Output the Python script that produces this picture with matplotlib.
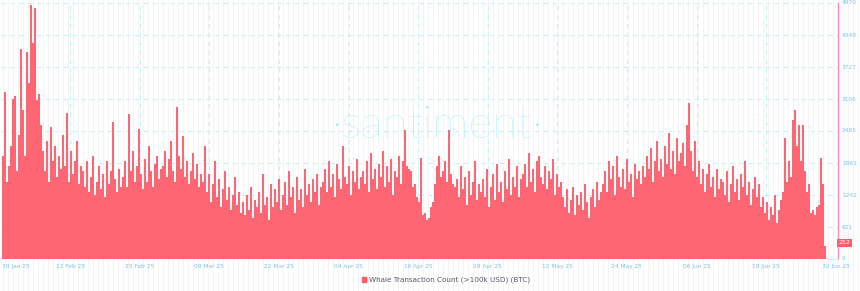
import matplotlib
matplotlib.use("Agg")
import matplotlib.pyplot as plt
import numpy as np

tick_labels = ["30 Jan 25", "12 Feb 25", "25 Feb 25", "09 Mar 25", "22 Mar 25", "04 Apr 25",
               "16 Apr 25", "29 Apr 25", "12 May 25", "24 May 25", "06 Jun 25", "19 Jun 25", "30 Jun 25"]
y_ticks = [0, 621, 1242, 1863, 2485, 3106, 3727, 4348, 4970]
y_tick_labels = ["0", "621", "1242", "1863", "2485", "3106", "3727", "4348", "4970"]
series_name = "Whale Transaction Count (>100k USD) (BTC)"
last_value_label = "252"

whale_counts = [
    2000, 3240, 1500, 1800, 2200, 3100, 3160, 1700, 2400, 4070, 2900, 2000, 4020, 3420, 4930, 4190, 4870, 3090, 3200, 2600,
    2100, 1700, 2300, 1500, 2560, 1900, 2200, 1600, 2000, 1750, 2400, 1800, 2835, 1500, 2100, 1650, 1900, 2300, 1450, 1800,
    1700, 1400, 1900, 1300, 1600, 2000, 1250, 1500, 1800, 1350, 1650, 1200, 1900, 1450, 1700, 2660, 1550, 1300, 1750, 1400,
    1600, 1900, 1400, 2815, 1700, 2100, 1500, 1800, 2530, 1650, 1350, 1950, 1500, 2200, 1700, 1400, 1850, 2000, 1550, 1750,
    1800, 2100, 1600, 1950, 2300, 1700, 1500, 2950, 2000, 1750, 2390, 1600, 1900, 1450, 1700, 2050, 1550, 1850, 1400, 1650,
    1500, 2200, 1300, 1650, 1100, 1450, 1900, 1200, 1550, 1000, 1350, 1700, 1150, 1400, 950, 1250, 1600, 1050, 1300, 900,
    1100, 850, 1250, 950, 1400, 800, 1150, 1000, 1300, 900, 1650, 1050, 1200, 750, 1450, 1000, 1350, 1100, 1550, 950,
    1250, 1500, 1050, 1700, 1200, 1400, 900, 1600, 1150, 1350, 1000, 1750, 1250, 1450, 1100, 1550, 1300, 1650, 1050, 1400,
    1500, 1750, 1300, 1900, 1400, 1650, 1200, 1850, 1550, 1350, 2200, 1600, 1450, 1800, 1250, 1700, 1500, 1950, 1350, 1600,
    1700, 1450, 1900, 1300, 2050, 1550, 1750, 1350, 1850, 1600, 2100, 1400, 1800, 1500, 1950, 1250, 1700, 1600, 2000, 1450,
    1900, 2500, 1800, 1750, 1700, 1400, 1450, 1200, 1100, 1960, 850, 900, 750, 800, 1000, 1100, 1450, 1800, 2000, 1600,
    1700, 1900, 1500, 2500, 1650, 1450, 1400, 1550, 1200, 1800, 1350, 1600, 1050, 1700, 1250, 1500, 1900, 1150, 1450, 1300,
    1550, 1200, 1750, 1000, 1400, 1650, 1150, 1850, 1300, 1500, 1100, 1700, 1350, 1950, 1250, 1600, 1400, 1800, 1200, 1550,
    1650, 1850, 1400, 2050, 1500, 1750, 1300, 1900, 2000, 1600, 1450, 1800, 1350, 1700, 1550, 1950, 1250, 1650, 1400, 1500,
    1200, 1000, 1350, 900, 1150, 1400, 850, 1250, 1050, 1300, 950, 1450, 1100, 800, 1200, 1350, 1000, 1500, 1150, 1300,
    1450, 1700, 1300, 1900, 1550, 1800, 1250, 2000, 1600, 1400, 1750, 1350, 1950, 1500, 1650, 1200, 1850, 1550, 1700, 1450,
    1800, 1600, 2000, 1750, 2150, 1500, 1900, 2300, 1700, 1950, 1600, 2200, 1850, 2450, 1750, 2100, 1650, 2350, 1900, 2050,
    2250, 1800, 2600, 3030, 2100, 1700, 2300, 1600, 1900, 1450, 1750, 1300, 1650, 1850, 1400, 1600, 1200, 1750, 1350, 1550,
    1500, 1250, 1700, 1100, 1450, 1800, 1300, 1550, 1150, 1650, 1400, 1900, 1250, 1500, 1050, 1350, 1600, 1200, 1450, 1000,
    1200, 900, 1100, 750, 1000, 850, 1250, 700, 950, 1150, 1300, 2350, 1500, 1900, 1600, 2700, 2890, 2200, 2600, 1900,
    2600, 1700, 1300, 1450, 900, 950, 850, 1000, 1050, 1960, 1450, 252,
]

W, H = 860, 291
fig = plt.figure(figsize=(W / 100, H / 100), dpi=100)
fig.patch.set_facecolor("white")

# background faint vertical stripes
bg = fig.add_axes([0, 0, 1, 1], zorder=-10)
bg.set_xlim(0, W)
bg.set_ylim(H, 0)
bg.axis("off")
for xs in np.arange(2.5, W, 5.0):
    bg.axvline(xs, color="#f3f3f3", lw=0.6)

ax = fig.add_axes([1 / W, 1 - 259 / H, 837 / W, 256 / H])
ax.patch.set_alpha(0)
n = len(whale_counts)
x = np.arange(n)
ax.bar(x, whale_counts, width=0.62, color="#ff6674", edgecolor="none", zorder=3)

ax.set_xlim(-1, 417.5)
ax.set_ylim(0, 4970)

# tick positions in pixel -> data
tick_px = np.linspace(0.5, 835.7, len(tick_labels))
tick_x = (tick_px - 3) / 2.0
for tx in tick_x[1:-1]:
    ax.axvline(tx, color="#c6f2f4", lw=0.8, ls=(0, (4, 4)), zorder=1)
for yt in y_ticks[1:]:
    ax.axhline(yt, color="#c6f2f4", lw=0.8, ls=(0, (4, 4)), zorder=1)

ax.set_xticks([])
ax.set_yticks([])
for s in ax.spines.values():
    s.set_visible(False)
ax.axvline(417.5, color="#ff8cc0", lw=1.0, zorder=4, clip_on=False)
ax.plot([412.5, 417.5], [0, 0], color="#c6f2f4", lw=0.8, zorder=4, clip_on=False)

for i, (tx, lab) in enumerate(zip(tick_x, tick_labels)):
    ha = "left" if i == 0 else "center"
    xx = tx + 1 if i == 0 else tx
    ax.text(xx, -90, lab, ha=ha, va="top", fontsize=4.2, color="#7fc4e0")

for yv, lab in zip(y_ticks, y_tick_labels):
    ax.text(419.5, yv, lab, ha="left", va="center", fontsize=4.2, color="#7fc4e0", clip_on=False)

ax.text(418.0, whale_counts[-1] + 60, last_value_label, ha="left", va="center", fontsize=4.5,
        color="white", bbox=dict(boxstyle="square,pad=0.25", fc="#ff5b6b", ec="none"), zorder=6)

# watermark
fig.text(437 / W, 1 - 126 / H, "·santiment·", ha="center", va="center", fontsize=33,
         color="#9becf3", family="Lato", weight="light", zorder=5, alpha=0.9)

# legend
fig.patches.append(plt.Rectangle((362 / W, 1 - 282 / H), 4 / W, 5 / H, transform=fig.transFigure,
                                 color="#ff5b6b", figure=fig))
fig.text(369 / W, 1 - 279.5 / H, series_name, ha="left", va="center", fontsize=5.2, color="#555a66")

fig.savefig("out.png", dpi=100, facecolor="white")
